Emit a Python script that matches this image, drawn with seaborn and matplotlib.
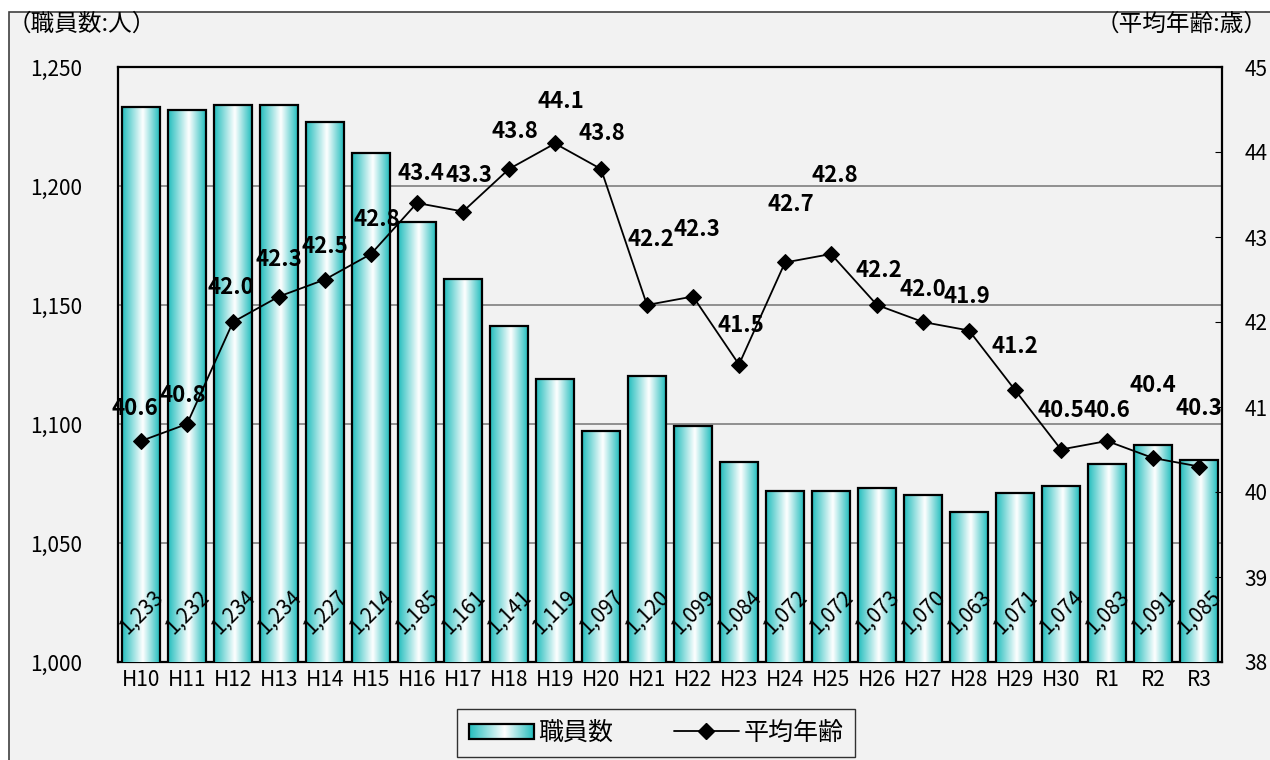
from matplotlib import pyplot as plt
from matplotlib.colors import LinearSegmentedColormap
from matplotlib.lines import Line2D
from matplotlib.patches import Patch, Rectangle
from matplotlib.legend_handler import HandlerBase
from matplotlib.image import BboxImage
from matplotlib.transforms import Bbox, TransformedBbox
import seaborn as sns
import numpy as np
import pandas as pd

years = ['H10', 'H11', 'H12', 'H13', 'H14', 'H15', 'H16', 'H17', 'H18', 'H19',
         'H20', 'H21', 'H22', 'H23', 'H24', 'H25', 'H26', 'H27', 'H28', 'H29',
         'H30', 'R1', 'R2', 'R3']
staff = [1233, 1232, 1234, 1234, 1227, 1214, 1185, 1161, 1141, 1119,
         1097, 1120, 1099, 1084, 1072, 1072, 1073, 1070, 1063, 1071,
         1074, 1083, 1091, 1085]
avg_age = [40.6, 40.8, 42.0, 42.3, 42.5, 42.8, 43.4, 43.3, 43.8, 44.1,
           43.8, 42.2, 42.3, 41.5, 42.7, 42.8, 42.2, 42.0, 41.9, 41.2,
           40.5, 40.6, 40.4, 40.3]

# label nudges for the age values (pixels, as in the source chart)
lbl_dx = [-6, -4, -2, 0, 0, 6, 4, 6, 6, 6, 1, 4, 4, 2, 6, 4, 2, 0, -2, 0, 0, 0, 0, 0]
lbl_dy = [32, 28, 35, 37, 33, 35, 30, 36, 37, 42, 36, 65, 67, 39, 58, 78,
          34, 32, 34, 43, 39, 30, 73, 58]

BG = '#f2f2f2'
teal = LinearSegmentedColormap.from_list(
    'teal', [(0, '#22bdbd'), (0.55, '#ffffff'), (1, '#22bdbd')])
grad = np.linspace(0, 1, 256).reshape(1, -1)


class GradientHandler(HandlerBase):
    '''
        Legend key drawn with the same horizontal gradient as the bars
    '''
    def create_artists(self, legend, orig, xd, yd, w, h, fs, trans):
        box = TransformedBbox(Bbox.from_bounds(-xd, -yd + 1, w, h - 2), trans)
        img = BboxImage(box, cmap=teal, interpolation='bicubic')
        img.set_data(grad)
        edge = Rectangle((-xd, -yd + 1), w, h - 2, facecolor='none',
                         edgecolor='black', linewidth=1.6, transform=trans)
        return [img, edge]


sns.set_style('white')
plt.rcParams['font.family'] = ['Noto Sans CJK JP', 'DejaVu Sans']
plt.rcParams['text.color'] = 'black'
plt.rcParams['xtick.color'] = 'black'
plt.rcParams['ytick.color'] = 'black'
plt.rcParams['axes.labelcolor'] = 'black'

df = pd.DataFrame({'year': years, 'staff': staff, 'age': avg_age,
                   'pos': np.arange(len(years))})

fig = plt.figure(figsize=(12.7, 7.6), dpi=100, facecolor='white')
fig.patches.append(Rectangle((9 / 1270, -0.01), 1.05, 1 - 12 / 760 + 0.01,
                             transform=fig.transFigure, facecolor=BG,
                             edgecolor='#404040', linewidth=1.2, zorder=-5))
ax = fig.add_axes([118 / 1270, 98 / 760, 1104 / 1270, 595 / 760])
ax.set_facecolor(BG)

sns.barplot(data=df, x='year', y='staff', width=0.82, color='white',
            edgecolor='black', linewidth=1.6, ax=ax, zorder=3)

for p in ax.patches:
    x0, w, h = p.get_x(), p.get_width(), p.get_height()
    im = ax.imshow(grad, cmap=teal, extent=[x0, x0 + w, 1000, h],
                   aspect='auto', zorder=3, interpolation='bicubic')
    im.set_clip_path(p)
    p.set_facecolor('none')
    p.set_zorder(4)

for i, v in enumerate(staff):
    ax.text(i, 1021, f'{v:,}', rotation=45, ha='center', va='center',
            fontsize=15, zorder=6)

ax.set_ylim(1000, 1250)
ax.set_yticks(range(1000, 1251, 50))
ax.set_yticklabels([f'{v:,}' for v in range(1000, 1251, 50)])
for y in (1050, 1100, 1150, 1200):
    ax.axhline(y, color='#7f7f7f', linewidth=1.2, zorder=1)
ax.set_xlabel('')
ax.set_ylabel('')
for s in ax.spines.values():
    s.set_color('black')
    s.set_linewidth(1.6)

ax2 = ax.twinx()
sns.lineplot(data=df, x='pos', y='age', color='black', linewidth=1.3,
             marker='D', markersize=8, markeredgecolor='black', ax=ax2, zorder=5)
ax2.set_ylim(38, 45)
ax2.set_yticks(range(38, 46))
ax2.set_ylabel('')
ax2.set_xlabel('')
ax2.tick_params(axis='y', direction='in', length=5, pad=16, labelsize=15)
for s in ax2.spines.values():
    s.set_visible(False)

# x axis after the line plot, since twinx shares it
ax.set_xlim(-0.5, len(years) - 0.5)
ax.set_xticks(np.arange(len(years)))
ax.set_xticklabels(years)
ax.set_xticks(np.arange(len(years) + 1) - 0.5, minor=True)
ax.tick_params(axis='y', direction='in', length=0, pad=26, labelsize=15)
ax.tick_params(axis='x', which='major', length=0, pad=5, labelsize=15)
ax.tick_params(axis='x', which='minor', direction='in', length=4, width=1)

for i, v in enumerate(avg_age):
    ax2.annotate(f'{v:.1f}', (i, v), xytext=(lbl_dx[i] * 0.72, lbl_dy[i] * 0.72),
                 textcoords='offset points', ha='center', va='center',
                 fontsize=16, fontweight='bold', zorder=7)

fig.text(8 / 1270, 1 - 24 / 760, '（職員数:人）', fontsize=17, va='center', ha='left')
fig.text(1268 / 1270, 1 - 24 / 760, '（平均年齢:歳）', fontsize=17, va='center', ha='right')

handles = [Patch(facecolor='#9ee6e6', edgecolor='black'),
           Line2D([], [], color='black', marker='D', markersize=8, linewidth=1.3)]
leg = fig.legend(handles, ['職員数', '平均年齢'], loc='center',
                 bbox_to_anchor=(656 / 1270, 1 - 733 / 760), ncol=2,
                 fontsize=18, frameon=True, fancybox=False, facecolor=BG,
                 edgecolor='black', handlelength=2.6, handleheight=0.7,
                 handletextpad=0.2, columnspacing=2.4, borderpad=0.45,
                 handler_map={Patch: GradientHandler()})
leg.get_frame().set_linewidth(1.0)

fig.savefig('out.png', dpi=100, facecolor='white')
plt.close(fig)
